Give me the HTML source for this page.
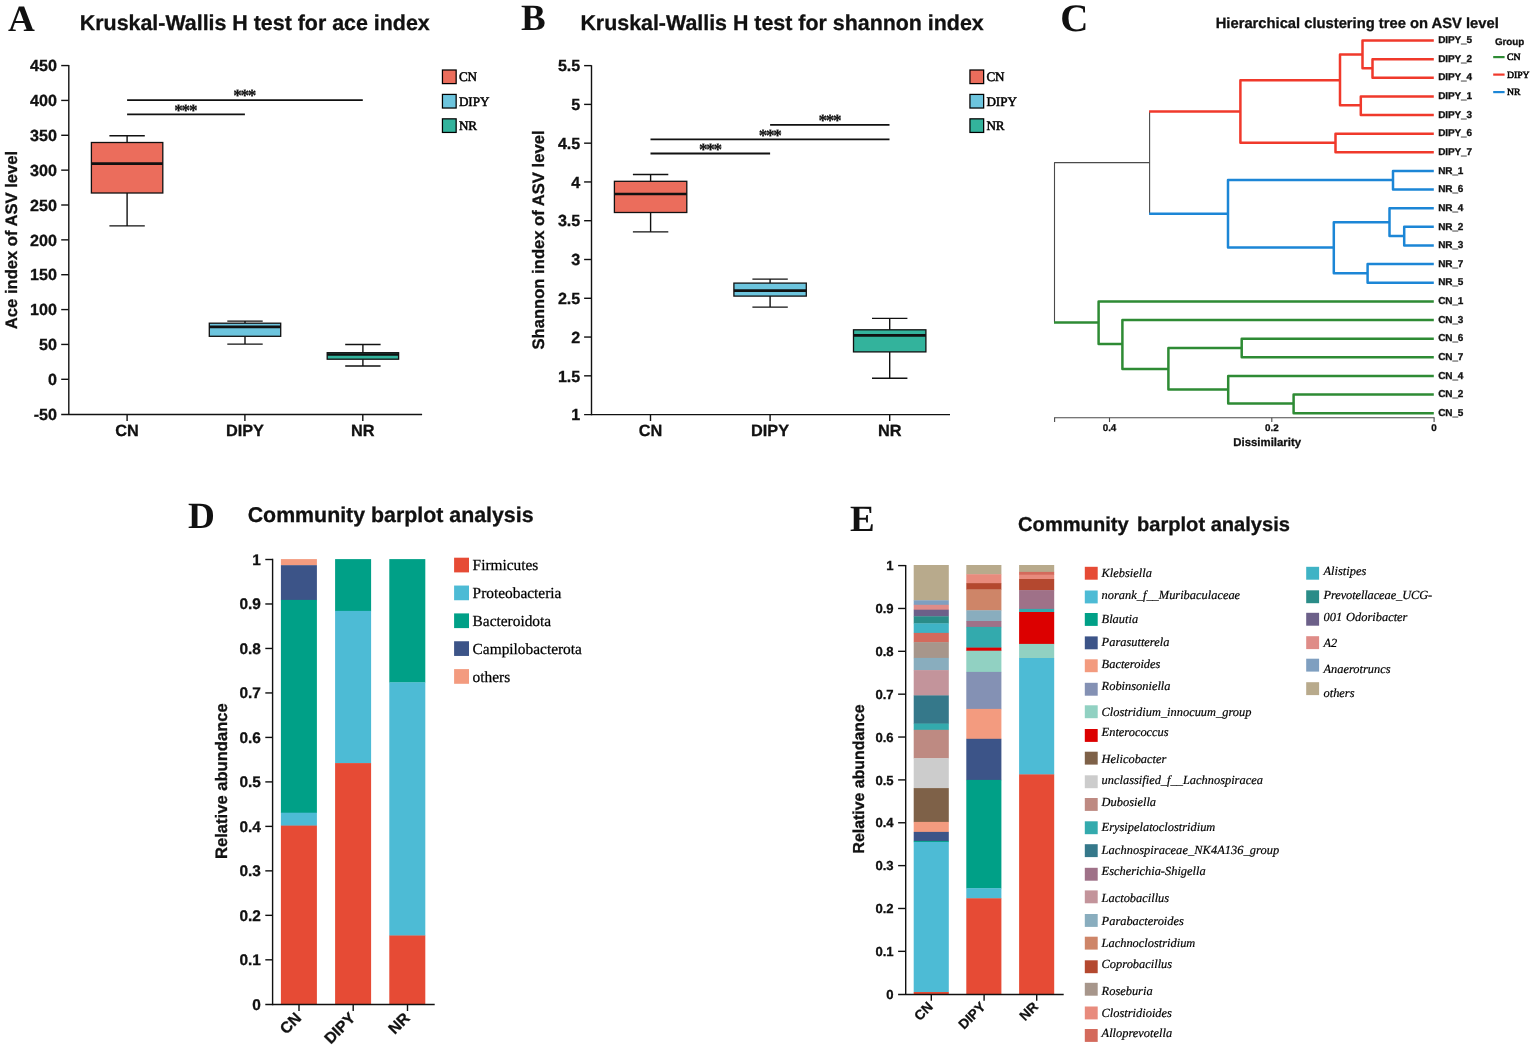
<!DOCTYPE html>
<html lang="en">
<head>
<meta charset="utf-8">
<title>Figure: alpha diversity, clustering tree and community barplots</title>
<style>
html,body{margin:0;padding:0;background:#fff;}
body{width:1535px;height:1048px;overflow:hidden;}
svg{display:block;}
text{fill:#111;text-rendering:geometricPrecision;}
.sb{font-family:"Liberation Sans", sans-serif;font-weight:700;stroke:#111;stroke-width:0.3px;}
.st{font-family:"Liberation Sans", sans-serif;font-weight:400;}
.f{font-family:"Liberation Serif", serif;font-weight:400;fill:#000;stroke:#000;stroke-width:0.25px;}
.fb{font-family:"Liberation Serif", serif;font-weight:700;}
.fi{font-family:"Liberation Serif", serif;font-style:italic;font-weight:400;fill:#000;stroke:#000;stroke-width:0.2px;}
</style>
</head>
<body>
<svg width="1535" height="1048" viewBox="0 0 1535 1048">
<rect x="0" y="0" width="1535" height="1048" fill="#ffffff"/>
<text class="fb" x="8.00" y="30.60" font-size="37.2" text-anchor="start">A</text>
<text class="sb" x="79.80" y="30.30" font-size="21.4" text-anchor="start">Kruskal-Wallis H test for ace index</text>
<line x1="68.80" y1="64.90" x2="68.80" y2="415.10" stroke="#111" stroke-width="1.4" stroke-linecap="butt"/>
<line x1="61.20" y1="414.50" x2="422.10" y2="414.50" stroke="#111" stroke-width="1.4" stroke-linecap="butt"/>
<text class="sb" x="56.90" y="419.86" font-size="16.1" text-anchor="end">-50</text>
<line x1="61.20" y1="379.30" x2="68.80" y2="379.30" stroke="#111" stroke-width="1.4" stroke-linecap="butt"/>
<text class="sb" x="56.90" y="385.00" font-size="16.1" text-anchor="end">0</text>
<line x1="61.20" y1="344.44" x2="68.80" y2="344.44" stroke="#111" stroke-width="1.4" stroke-linecap="butt"/>
<text class="sb" x="56.90" y="350.14" font-size="16.1" text-anchor="end">50</text>
<line x1="61.20" y1="309.58" x2="68.80" y2="309.58" stroke="#111" stroke-width="1.4" stroke-linecap="butt"/>
<text class="sb" x="56.90" y="315.28" font-size="16.1" text-anchor="end">100</text>
<line x1="61.20" y1="274.72" x2="68.80" y2="274.72" stroke="#111" stroke-width="1.4" stroke-linecap="butt"/>
<text class="sb" x="56.90" y="280.42" font-size="16.1" text-anchor="end">150</text>
<line x1="61.20" y1="239.86" x2="68.80" y2="239.86" stroke="#111" stroke-width="1.4" stroke-linecap="butt"/>
<text class="sb" x="56.90" y="245.56" font-size="16.1" text-anchor="end">200</text>
<line x1="61.20" y1="205.00" x2="68.80" y2="205.00" stroke="#111" stroke-width="1.4" stroke-linecap="butt"/>
<text class="sb" x="56.90" y="210.70" font-size="16.1" text-anchor="end">250</text>
<line x1="61.20" y1="170.14" x2="68.80" y2="170.14" stroke="#111" stroke-width="1.4" stroke-linecap="butt"/>
<text class="sb" x="56.90" y="175.84" font-size="16.1" text-anchor="end">300</text>
<line x1="61.20" y1="135.28" x2="68.80" y2="135.28" stroke="#111" stroke-width="1.4" stroke-linecap="butt"/>
<text class="sb" x="56.90" y="140.98" font-size="16.1" text-anchor="end">350</text>
<line x1="61.20" y1="100.42" x2="68.80" y2="100.42" stroke="#111" stroke-width="1.4" stroke-linecap="butt"/>
<text class="sb" x="56.90" y="106.12" font-size="16.1" text-anchor="end">400</text>
<line x1="61.20" y1="65.56" x2="68.80" y2="65.56" stroke="#111" stroke-width="1.4" stroke-linecap="butt"/>
<text class="sb" x="56.90" y="71.26" font-size="16.1" text-anchor="end">450</text>
<line x1="127.10" y1="414.50" x2="127.10" y2="420.90" stroke="#111" stroke-width="1.4" stroke-linecap="butt"/>
<text class="sb" x="127.10" y="436.20" font-size="16.3" text-anchor="middle">CN</text>
<line x1="244.90" y1="414.50" x2="244.90" y2="420.90" stroke="#111" stroke-width="1.4" stroke-linecap="butt"/>
<text class="sb" x="244.90" y="436.20" font-size="16.3" text-anchor="middle">DIPY</text>
<line x1="362.80" y1="414.50" x2="362.80" y2="420.90" stroke="#111" stroke-width="1.4" stroke-linecap="butt"/>
<text class="sb" x="362.80" y="436.20" font-size="16.3" text-anchor="middle">NR</text>
<text class="sb" x="17.20" y="240.00" font-size="16.6" text-anchor="middle" transform="rotate(-90 17.20 240.00)">Ace index of ASV level</text>
<line x1="127.10" y1="100.10" x2="362.80" y2="100.10" stroke="#111" stroke-width="1.8" stroke-linecap="butt"/>
<line x1="127.10" y1="114.40" x2="244.90" y2="114.40" stroke="#111" stroke-width="1.8" stroke-linecap="butt"/>
<text class="fb" x="244.15" y="101.05" font-size="17.2" text-anchor="middle" letter-spacing="-1.3" stroke="#111" stroke-width="0.25">***</text>
<text class="fb" x="185.25" y="115.65" font-size="17.2" text-anchor="middle" letter-spacing="-1.3" stroke="#111" stroke-width="0.25">***</text>
<line x1="127.10" y1="135.80" x2="127.10" y2="142.50" stroke="#111" stroke-width="1.4" stroke-linecap="butt"/>
<line x1="127.10" y1="193.00" x2="127.10" y2="225.90" stroke="#111" stroke-width="1.4" stroke-linecap="butt"/>
<line x1="109.40" y1="135.80" x2="144.80" y2="135.80" stroke="#111" stroke-width="1.4" stroke-linecap="butt"/>
<line x1="109.40" y1="225.90" x2="144.80" y2="225.90" stroke="#111" stroke-width="1.4" stroke-linecap="butt"/>
<rect x="91.40" y="142.50" width="71.40" height="50.50" fill="#EB6D5C" stroke="#111" stroke-width="1.3"/>
<line x1="91.40" y1="163.60" x2="162.80" y2="163.60" stroke="#111" stroke-width="2.7" stroke-linecap="butt"/>
<line x1="245.00" y1="321.10" x2="245.00" y2="323.20" stroke="#111" stroke-width="1.4" stroke-linecap="butt"/>
<line x1="245.00" y1="336.30" x2="245.00" y2="344.10" stroke="#111" stroke-width="1.4" stroke-linecap="butt"/>
<line x1="227.30" y1="321.10" x2="262.70" y2="321.10" stroke="#111" stroke-width="1.4" stroke-linecap="butt"/>
<line x1="227.30" y1="344.10" x2="262.70" y2="344.10" stroke="#111" stroke-width="1.4" stroke-linecap="butt"/>
<rect x="209.30" y="323.20" width="71.40" height="13.10" fill="#6DC5DE" stroke="#111" stroke-width="1.3"/>
<line x1="209.30" y1="326.90" x2="280.70" y2="326.90" stroke="#111" stroke-width="2.7" stroke-linecap="butt"/>
<line x1="362.90" y1="344.50" x2="362.90" y2="352.70" stroke="#111" stroke-width="1.4" stroke-linecap="butt"/>
<line x1="362.90" y1="359.20" x2="362.90" y2="366.00" stroke="#111" stroke-width="1.4" stroke-linecap="butt"/>
<line x1="345.20" y1="344.50" x2="380.60" y2="344.50" stroke="#111" stroke-width="1.4" stroke-linecap="butt"/>
<line x1="345.20" y1="366.00" x2="380.60" y2="366.00" stroke="#111" stroke-width="1.4" stroke-linecap="butt"/>
<rect x="327.20" y="352.70" width="71.40" height="6.50" fill="#33B39C" stroke="#111" stroke-width="1.3"/>
<line x1="327.20" y1="354.50" x2="398.60" y2="354.50" stroke="#111" stroke-width="2.6" stroke-linecap="butt"/>
<rect x="442.45" y="70.00" width="13.70" height="13.60" fill="#EB6D5C" stroke="#000" stroke-width="1.25"/>
<text class="f" x="458.90" y="81.40" font-size="13.1" text-anchor="start" style="stroke-width:0.5px">CN</text>
<rect x="442.45" y="94.42" width="13.70" height="13.60" fill="#6DC5DE" stroke="#000" stroke-width="1.25"/>
<text class="f" x="458.90" y="105.90" font-size="13.1" text-anchor="start" style="stroke-width:0.5px">DIPY</text>
<rect x="442.45" y="118.84" width="13.70" height="13.60" fill="#33B39C" stroke="#000" stroke-width="1.25"/>
<text class="f" x="458.90" y="130.20" font-size="13.1" text-anchor="start" style="stroke-width:0.5px">NR</text>
<text class="fb" x="520.90" y="30.30" font-size="37.0" text-anchor="start">B</text>
<text class="sb" x="580.40" y="30.30" font-size="21.4" text-anchor="start">Kruskal-Wallis H test for shannon index</text>
<g transform="translate(0,0.4)">
<line x1="591.50" y1="64.90" x2="591.50" y2="414.80" stroke="#111" stroke-width="1.4" stroke-linecap="butt"/>
<line x1="584.10" y1="414.20" x2="950.00" y2="414.20" stroke="#111" stroke-width="1.4" stroke-linecap="butt"/>
<text class="sb" x="580.30" y="419.90" font-size="16.1" text-anchor="end">1</text>
<line x1="584.10" y1="375.43" x2="591.50" y2="375.43" stroke="#111" stroke-width="1.4" stroke-linecap="butt"/>
<text class="sb" x="580.30" y="381.12" font-size="16.1" text-anchor="end">1.5</text>
<line x1="584.10" y1="336.65" x2="591.50" y2="336.65" stroke="#111" stroke-width="1.4" stroke-linecap="butt"/>
<text class="sb" x="580.30" y="342.35" font-size="16.1" text-anchor="end">2</text>
<line x1="584.10" y1="297.88" x2="591.50" y2="297.88" stroke="#111" stroke-width="1.4" stroke-linecap="butt"/>
<text class="sb" x="580.30" y="303.57" font-size="16.1" text-anchor="end">2.5</text>
<line x1="584.10" y1="259.10" x2="591.50" y2="259.10" stroke="#111" stroke-width="1.4" stroke-linecap="butt"/>
<text class="sb" x="580.30" y="264.80" font-size="16.1" text-anchor="end">3</text>
<line x1="584.10" y1="220.32" x2="591.50" y2="220.32" stroke="#111" stroke-width="1.4" stroke-linecap="butt"/>
<text class="sb" x="580.30" y="226.02" font-size="16.1" text-anchor="end">3.5</text>
<line x1="584.10" y1="181.55" x2="591.50" y2="181.55" stroke="#111" stroke-width="1.4" stroke-linecap="butt"/>
<text class="sb" x="580.30" y="187.25" font-size="16.1" text-anchor="end">4</text>
<line x1="584.10" y1="142.77" x2="591.50" y2="142.77" stroke="#111" stroke-width="1.4" stroke-linecap="butt"/>
<text class="sb" x="580.30" y="148.47" font-size="16.1" text-anchor="end">4.5</text>
<line x1="584.10" y1="104.00" x2="591.50" y2="104.00" stroke="#111" stroke-width="1.4" stroke-linecap="butt"/>
<text class="sb" x="580.30" y="109.70" font-size="16.1" text-anchor="end">5</text>
<line x1="584.10" y1="65.23" x2="591.50" y2="65.23" stroke="#111" stroke-width="1.4" stroke-linecap="butt"/>
<text class="sb" x="580.30" y="70.93" font-size="16.1" text-anchor="end">5.5</text>
<line x1="650.50" y1="414.20" x2="650.50" y2="420.60" stroke="#111" stroke-width="1.4" stroke-linecap="butt"/>
<text class="sb" x="650.50" y="435.80" font-size="16.3" text-anchor="middle">CN</text>
<line x1="770.10" y1="414.20" x2="770.10" y2="420.60" stroke="#111" stroke-width="1.4" stroke-linecap="butt"/>
<text class="sb" x="770.10" y="435.80" font-size="16.3" text-anchor="middle">DIPY</text>
<line x1="889.70" y1="414.20" x2="889.70" y2="420.60" stroke="#111" stroke-width="1.4" stroke-linecap="butt"/>
<text class="sb" x="889.70" y="435.80" font-size="16.3" text-anchor="middle">NR</text>
<text class="sb" x="544.30" y="239.60" font-size="16.63" text-anchor="middle" transform="rotate(-90 544.30 239.60)">Shannon index of ASV level</text>
<line x1="770.10" y1="124.40" x2="889.50" y2="124.40" stroke="#111" stroke-width="1.8" stroke-linecap="butt"/>
<line x1="650.50" y1="138.90" x2="889.50" y2="138.90" stroke="#111" stroke-width="1.8" stroke-linecap="butt"/>
<line x1="650.50" y1="153.10" x2="770.10" y2="153.10" stroke="#111" stroke-width="1.8" stroke-linecap="butt"/>
<text class="fb" x="829.35" y="125.65" font-size="17.2" text-anchor="middle" letter-spacing="-1.3" stroke="#111" stroke-width="0.25">***</text>
<text class="fb" x="769.65" y="140.15" font-size="17.2" text-anchor="middle" letter-spacing="-1.3" stroke="#111" stroke-width="0.25">***</text>
<text class="fb" x="709.85" y="154.25" font-size="17.2" text-anchor="middle" letter-spacing="-1.3" stroke="#111" stroke-width="0.25">***</text>
<line x1="650.60" y1="174.10" x2="650.60" y2="180.90" stroke="#111" stroke-width="1.4" stroke-linecap="butt"/>
<line x1="650.60" y1="212.10" x2="650.60" y2="231.50" stroke="#111" stroke-width="1.4" stroke-linecap="butt"/>
<line x1="632.90" y1="174.10" x2="668.30" y2="174.10" stroke="#111" stroke-width="1.4" stroke-linecap="butt"/>
<line x1="632.90" y1="231.50" x2="668.30" y2="231.50" stroke="#111" stroke-width="1.4" stroke-linecap="butt"/>
<rect x="614.40" y="180.90" width="72.40" height="31.20" fill="#EB6D5C" stroke="#111" stroke-width="1.3"/>
<line x1="614.40" y1="193.60" x2="686.80" y2="193.60" stroke="#111" stroke-width="2.7" stroke-linecap="butt"/>
<line x1="770.10" y1="278.70" x2="770.10" y2="282.70" stroke="#111" stroke-width="1.4" stroke-linecap="butt"/>
<line x1="770.10" y1="295.70" x2="770.10" y2="306.70" stroke="#111" stroke-width="1.4" stroke-linecap="butt"/>
<line x1="752.40" y1="278.70" x2="787.80" y2="278.70" stroke="#111" stroke-width="1.4" stroke-linecap="butt"/>
<line x1="752.40" y1="306.70" x2="787.80" y2="306.70" stroke="#111" stroke-width="1.4" stroke-linecap="butt"/>
<rect x="733.90" y="282.70" width="72.40" height="13.00" fill="#6DC5DE" stroke="#111" stroke-width="1.3"/>
<line x1="733.90" y1="290.20" x2="806.30" y2="290.20" stroke="#111" stroke-width="2.7" stroke-linecap="butt"/>
<line x1="889.70" y1="318.00" x2="889.70" y2="329.40" stroke="#111" stroke-width="1.4" stroke-linecap="butt"/>
<line x1="889.70" y1="351.50" x2="889.70" y2="377.90" stroke="#111" stroke-width="1.4" stroke-linecap="butt"/>
<line x1="872.00" y1="318.00" x2="907.40" y2="318.00" stroke="#111" stroke-width="1.4" stroke-linecap="butt"/>
<line x1="872.00" y1="377.90" x2="907.40" y2="377.90" stroke="#111" stroke-width="1.4" stroke-linecap="butt"/>
<rect x="853.50" y="329.40" width="72.40" height="22.10" fill="#33B39C" stroke="#111" stroke-width="1.3"/>
<line x1="853.50" y1="334.90" x2="925.90" y2="334.90" stroke="#111" stroke-width="2.7" stroke-linecap="butt"/>
</g>
<rect x="969.95" y="70.00" width="13.70" height="13.60" fill="#EB6D5C" stroke="#000" stroke-width="1.25"/>
<text class="f" x="986.40" y="81.40" font-size="13.1" text-anchor="start" style="stroke-width:0.5px">CN</text>
<rect x="969.95" y="94.42" width="13.70" height="13.60" fill="#6DC5DE" stroke="#000" stroke-width="1.25"/>
<text class="f" x="986.40" y="105.90" font-size="13.1" text-anchor="start" style="stroke-width:0.5px">DIPY</text>
<rect x="969.95" y="118.84" width="13.70" height="13.60" fill="#33B39C" stroke="#000" stroke-width="1.25"/>
<text class="f" x="986.40" y="130.20" font-size="13.1" text-anchor="start" style="stroke-width:0.5px">NR</text>
<text class="fb" x="1060.20" y="30.70" font-size="39.0" text-anchor="start">C</text>
<text class="sb" x="1215.70" y="28.40" font-size="14.75" text-anchor="start">Hierarchical clustering tree on ASV level</text>
<path d="M1149.60 111.50 L1149.60 213.80" fill="none" stroke="#4a4a4a" stroke-width="1.1" stroke-linejoin="round" stroke-linecap="butt"/>
<path d="M1149.60 162.60 L1054.50 162.60 L1054.50 322.60" fill="none" stroke="#4a4a4a" stroke-width="1.1" stroke-linejoin="round" stroke-linecap="butt"/>
<path d="M1149.10 111.50 L1240.40 111.50" fill="none" stroke="#F0392B" stroke-width="2.5" stroke-linejoin="round" stroke-linecap="butt"/>
<path d="M1340.00 80.20 L1240.40 80.20 L1240.40 142.80 L1335.50 142.80" fill="none" stroke="#F0392B" stroke-width="2.5" stroke-linejoin="round" stroke-linecap="butt"/>
<path d="M1362.50 54.40 L1340.00 54.40 L1340.00 105.30 L1360.80 105.30" fill="none" stroke="#F0392B" stroke-width="2.5" stroke-linejoin="round" stroke-linecap="butt"/>
<path d="M1433.80 40.50 L1362.50 40.50 L1362.50 68.30 L1372.50 68.30" fill="none" stroke="#F0392B" stroke-width="2.5" stroke-linejoin="round" stroke-linecap="butt"/>
<path d="M1433.80 59.14 L1372.50 59.14 L1372.50 77.77 L1433.80 77.77" fill="none" stroke="#F0392B" stroke-width="2.5" stroke-linejoin="round" stroke-linecap="butt"/>
<path d="M1433.80 96.41 L1360.80 96.41 L1360.80 115.04 L1433.80 115.04" fill="none" stroke="#F0392B" stroke-width="2.5" stroke-linejoin="round" stroke-linecap="butt"/>
<path d="M1433.80 133.68 L1335.50 133.68 L1335.50 152.31 L1433.80 152.31" fill="none" stroke="#F0392B" stroke-width="2.5" stroke-linejoin="round" stroke-linecap="butt"/>
<path d="M1149.10 213.80 L1228.00 213.80" fill="none" stroke="#1C86D6" stroke-width="2.5" stroke-linejoin="round" stroke-linecap="butt"/>
<path d="M1393.00 180.10 L1228.00 180.10 L1228.00 247.40 L1333.80 247.40" fill="none" stroke="#1C86D6" stroke-width="2.5" stroke-linejoin="round" stroke-linecap="butt"/>
<path d="M1433.80 170.95 L1393.00 170.95 L1393.00 189.58 L1433.80 189.58" fill="none" stroke="#1C86D6" stroke-width="2.5" stroke-linejoin="round" stroke-linecap="butt"/>
<path d="M1389.50 222.20 L1333.80 222.20 L1333.80 273.20 L1367.60 273.20" fill="none" stroke="#1C86D6" stroke-width="2.5" stroke-linejoin="round" stroke-linecap="butt"/>
<path d="M1433.80 208.22 L1389.50 208.22 L1389.50 235.90 L1404.20 235.90" fill="none" stroke="#1C86D6" stroke-width="2.5" stroke-linejoin="round" stroke-linecap="butt"/>
<path d="M1433.80 226.85 L1404.20 226.85 L1404.20 245.49 L1433.80 245.49" fill="none" stroke="#1C86D6" stroke-width="2.5" stroke-linejoin="round" stroke-linecap="butt"/>
<path d="M1433.80 264.12 L1367.60 264.12 L1367.60 282.75 L1433.80 282.75" fill="none" stroke="#1C86D6" stroke-width="2.5" stroke-linejoin="round" stroke-linecap="butt"/>
<path d="M1054.00 322.60 L1098.60 322.60" fill="none" stroke="#2E8B34" stroke-width="2.5" stroke-linejoin="round" stroke-linecap="butt"/>
<path d="M1433.80 301.39 L1098.60 301.39 L1098.60 344.10 L1122.40 344.10" fill="none" stroke="#2E8B34" stroke-width="2.5" stroke-linejoin="round" stroke-linecap="butt"/>
<path d="M1433.80 320.03 L1122.40 320.03 L1122.40 369.00 L1168.40 369.00" fill="none" stroke="#2E8B34" stroke-width="2.5" stroke-linejoin="round" stroke-linecap="butt"/>
<path d="M1241.70 348.00 L1168.40 348.00 L1168.40 389.50 L1228.20 389.50" fill="none" stroke="#2E8B34" stroke-width="2.5" stroke-linejoin="round" stroke-linecap="butt"/>
<path d="M1433.80 338.66 L1241.70 338.66 L1241.70 357.30 L1433.80 357.30" fill="none" stroke="#2E8B34" stroke-width="2.5" stroke-linejoin="round" stroke-linecap="butt"/>
<path d="M1433.80 375.93 L1228.20 375.93 L1228.20 403.60 L1293.60 403.60" fill="none" stroke="#2E8B34" stroke-width="2.5" stroke-linejoin="round" stroke-linecap="butt"/>
<path d="M1433.80 394.57 L1293.60 394.57 L1293.60 413.20 L1433.80 413.20" fill="none" stroke="#2E8B34" stroke-width="2.5" stroke-linejoin="round" stroke-linecap="butt"/>
<text class="sb" x="1438.30" y="43.15" font-size="10.0" text-anchor="start" letter-spacing="-0.15">DIPY_5</text>
<text class="sb" x="1438.30" y="61.79" font-size="10.0" text-anchor="start" letter-spacing="-0.15">DIPY_2</text>
<text class="sb" x="1438.30" y="80.42" font-size="10.0" text-anchor="start" letter-spacing="-0.15">DIPY_4</text>
<text class="sb" x="1438.30" y="99.06" font-size="10.0" text-anchor="start" letter-spacing="-0.15">DIPY_1</text>
<text class="sb" x="1438.30" y="117.69" font-size="10.0" text-anchor="start" letter-spacing="-0.15">DIPY_3</text>
<text class="sb" x="1438.30" y="136.33" font-size="10.0" text-anchor="start" letter-spacing="-0.15">DIPY_6</text>
<text class="sb" x="1438.30" y="154.96" font-size="10.0" text-anchor="start" letter-spacing="-0.15">DIPY_7</text>
<text class="sb" x="1438.30" y="173.60" font-size="10.0" text-anchor="start" letter-spacing="-0.15">NR_1</text>
<text class="sb" x="1438.30" y="192.23" font-size="10.0" text-anchor="start" letter-spacing="-0.15">NR_6</text>
<text class="sb" x="1438.30" y="210.87" font-size="10.0" text-anchor="start" letter-spacing="-0.15">NR_4</text>
<text class="sb" x="1438.30" y="229.50" font-size="10.0" text-anchor="start" letter-spacing="-0.15">NR_2</text>
<text class="sb" x="1438.30" y="248.14" font-size="10.0" text-anchor="start" letter-spacing="-0.15">NR_3</text>
<text class="sb" x="1438.30" y="266.77" font-size="10.0" text-anchor="start" letter-spacing="-0.15">NR_7</text>
<text class="sb" x="1438.30" y="285.40" font-size="10.0" text-anchor="start" letter-spacing="-0.15">NR_5</text>
<text class="sb" x="1438.30" y="304.04" font-size="10.0" text-anchor="start" letter-spacing="-0.15">CN_1</text>
<text class="sb" x="1438.30" y="322.68" font-size="10.0" text-anchor="start" letter-spacing="-0.15">CN_3</text>
<text class="sb" x="1438.30" y="341.31" font-size="10.0" text-anchor="start" letter-spacing="-0.15">CN_6</text>
<text class="sb" x="1438.30" y="359.94" font-size="10.0" text-anchor="start" letter-spacing="-0.15">CN_7</text>
<text class="sb" x="1438.30" y="378.58" font-size="10.0" text-anchor="start" letter-spacing="-0.15">CN_4</text>
<text class="sb" x="1438.30" y="397.22" font-size="10.0" text-anchor="start" letter-spacing="-0.15">CN_2</text>
<text class="sb" x="1438.30" y="415.85" font-size="10.0" text-anchor="start" letter-spacing="-0.15">CN_5</text>
<line x1="1054.10" y1="417.70" x2="1434.60" y2="417.70" stroke="#4a4a4a" stroke-width="1.1" stroke-linecap="butt"/>
<line x1="1054.60" y1="417.70" x2="1054.60" y2="422.00" stroke="#4a4a4a" stroke-width="1.1" stroke-linecap="butt"/>
<line x1="1109.50" y1="417.70" x2="1109.50" y2="422.00" stroke="#4a4a4a" stroke-width="1.1" stroke-linecap="butt"/>
<text class="sb" x="1109.50" y="431.20" font-size="9.8" text-anchor="middle">0.4</text>
<line x1="1271.80" y1="417.70" x2="1271.80" y2="422.00" stroke="#4a4a4a" stroke-width="1.1" stroke-linecap="butt"/>
<text class="sb" x="1271.80" y="431.20" font-size="9.8" text-anchor="middle">0.2</text>
<line x1="1434.10" y1="417.70" x2="1434.10" y2="422.00" stroke="#4a4a4a" stroke-width="1.1" stroke-linecap="butt"/>
<text class="sb" x="1434.10" y="431.20" font-size="9.8" text-anchor="middle">0</text>
<text class="sb" x="1267.20" y="446.00" font-size="11.4" text-anchor="middle">Dissimilarity</text>
<text class="sb" x="1494.90" y="44.70" font-size="9.8" text-anchor="start">Group</text>
<line x1="1493.20" y1="57.10" x2="1504.60" y2="57.10" stroke="#2E8B34" stroke-width="2.2" stroke-linecap="butt"/>
<text class="f" x="1507.00" y="60.10" font-size="9.7" text-anchor="start" style="stroke-width:0.55px">CN</text>
<line x1="1493.20" y1="74.60" x2="1504.60" y2="74.60" stroke="#F0392B" stroke-width="2.2" stroke-linecap="butt"/>
<text class="f" x="1507.00" y="77.60" font-size="9.7" text-anchor="start" style="stroke-width:0.55px">DIPY</text>
<line x1="1493.20" y1="92.10" x2="1504.60" y2="92.10" stroke="#1C86D6" stroke-width="2.2" stroke-linecap="butt"/>
<text class="f" x="1507.00" y="95.10" font-size="9.7" text-anchor="start" style="stroke-width:0.55px">NR</text>
<text class="fb" x="187.90" y="527.80" font-size="37.2" text-anchor="start">D</text>
<text class="sb" x="247.70" y="521.90" font-size="21.35" text-anchor="start">Community barplot analysis</text>
<rect x="280.90" y="559.10" width="36.00" height="6.40" fill="#F39B7F"/>
<rect x="280.90" y="565.20" width="36.00" height="35.00" fill="#3C5488"/>
<rect x="280.90" y="599.90" width="36.00" height="213.10" fill="#00A087"/>
<rect x="280.90" y="812.70" width="36.00" height="13.20" fill="#4DBBD5"/>
<rect x="280.90" y="825.60" width="36.00" height="179.00" fill="#E64B35"/>
<rect x="335.10" y="559.10" width="36.00" height="52.10" fill="#00A087"/>
<rect x="335.10" y="610.90" width="36.00" height="152.50" fill="#4DBBD5"/>
<rect x="335.10" y="763.10" width="36.00" height="241.50" fill="#E64B35"/>
<rect x="389.30" y="559.10" width="36.00" height="123.50" fill="#00A087"/>
<rect x="389.30" y="682.30" width="36.00" height="253.50" fill="#4DBBD5"/>
<rect x="389.30" y="935.50" width="36.00" height="69.10" fill="#E64B35"/>
<line x1="272.60" y1="558.80" x2="272.60" y2="1005.20" stroke="#111" stroke-width="1.4" stroke-linecap="butt"/>
<line x1="265.30" y1="1004.50" x2="434.70" y2="1004.50" stroke="#111" stroke-width="1.4" stroke-linecap="butt"/>
<text class="sb" x="260.90" y="1009.60" font-size="15.4" text-anchor="end">0</text>
<line x1="265.30" y1="959.82" x2="272.60" y2="959.82" stroke="#111" stroke-width="1.4" stroke-linecap="butt"/>
<text class="sb" x="260.90" y="965.12" font-size="15.4" text-anchor="end">0.1</text>
<line x1="265.30" y1="915.34" x2="272.60" y2="915.34" stroke="#111" stroke-width="1.4" stroke-linecap="butt"/>
<text class="sb" x="260.90" y="920.64" font-size="15.4" text-anchor="end">0.2</text>
<line x1="265.30" y1="870.86" x2="272.60" y2="870.86" stroke="#111" stroke-width="1.4" stroke-linecap="butt"/>
<text class="sb" x="260.90" y="876.16" font-size="15.4" text-anchor="end">0.3</text>
<line x1="265.30" y1="826.38" x2="272.60" y2="826.38" stroke="#111" stroke-width="1.4" stroke-linecap="butt"/>
<text class="sb" x="260.90" y="831.68" font-size="15.4" text-anchor="end">0.4</text>
<line x1="265.30" y1="781.90" x2="272.60" y2="781.90" stroke="#111" stroke-width="1.4" stroke-linecap="butt"/>
<text class="sb" x="260.90" y="787.20" font-size="15.4" text-anchor="end">0.5</text>
<line x1="265.30" y1="737.42" x2="272.60" y2="737.42" stroke="#111" stroke-width="1.4" stroke-linecap="butt"/>
<text class="sb" x="260.90" y="742.72" font-size="15.4" text-anchor="end">0.6</text>
<line x1="265.30" y1="692.94" x2="272.60" y2="692.94" stroke="#111" stroke-width="1.4" stroke-linecap="butt"/>
<text class="sb" x="260.90" y="698.24" font-size="15.4" text-anchor="end">0.7</text>
<line x1="265.30" y1="648.46" x2="272.60" y2="648.46" stroke="#111" stroke-width="1.4" stroke-linecap="butt"/>
<text class="sb" x="260.90" y="653.76" font-size="15.4" text-anchor="end">0.8</text>
<line x1="265.30" y1="603.98" x2="272.60" y2="603.98" stroke="#111" stroke-width="1.4" stroke-linecap="butt"/>
<text class="sb" x="260.90" y="609.28" font-size="15.4" text-anchor="end">0.9</text>
<line x1="265.30" y1="559.50" x2="272.60" y2="559.50" stroke="#111" stroke-width="1.4" stroke-linecap="butt"/>
<text class="sb" x="260.90" y="564.80" font-size="15.4" text-anchor="end">1</text>
<line x1="299.00" y1="1004.50" x2="299.00" y2="1011.00" stroke="#111" stroke-width="1.4" stroke-linecap="butt"/>
<text class="sb" x="302.20" y="1019.00" font-size="15.6" text-anchor="end" transform="rotate(-45 302.20 1019.00)">CN</text>
<line x1="353.20" y1="1004.50" x2="353.20" y2="1011.00" stroke="#111" stroke-width="1.4" stroke-linecap="butt"/>
<text class="sb" x="356.40" y="1019.00" font-size="15.6" text-anchor="end" transform="rotate(-45 356.40 1019.00)">DIPY</text>
<line x1="407.50" y1="1004.50" x2="407.50" y2="1011.00" stroke="#111" stroke-width="1.4" stroke-linecap="butt"/>
<text class="sb" x="410.70" y="1019.00" font-size="15.6" text-anchor="end" transform="rotate(-45 410.70 1019.00)">NR</text>
<text class="sb" x="227.50" y="781.10" font-size="16.6" text-anchor="middle" transform="rotate(-90 227.50 781.10)">Relative abundance</text>
<rect x="454.10" y="557.70" width="14.90" height="14.70" fill="#E64B35"/>
<text class="f" x="472.60" y="570.30" font-size="15.39" text-anchor="start">Firmicutes</text>
<rect x="454.10" y="585.55" width="14.90" height="14.70" fill="#4DBBD5"/>
<text class="f" x="472.60" y="598.15" font-size="15.39" text-anchor="start">Proteobacteria</text>
<rect x="454.10" y="613.40" width="14.90" height="14.70" fill="#00A087"/>
<text class="f" x="472.60" y="626.00" font-size="15.39" text-anchor="start">Bacteroidota</text>
<rect x="454.10" y="641.25" width="14.90" height="14.70" fill="#3C5488"/>
<text class="f" x="472.60" y="653.85" font-size="15.39" text-anchor="start">Campilobacterota</text>
<rect x="454.10" y="669.10" width="14.90" height="14.70" fill="#F39B7F"/>
<text class="f" x="472.60" y="681.70" font-size="15.39" text-anchor="start">others</text>
<text class="fb" x="850.00" y="530.80" font-size="37.0" text-anchor="start">E</text>
<text class="sb" x="1018.10" y="530.50" font-size="20.1" text-anchor="start">Community<tspan dx="2.8"> barplot analysis</tspan></text>
<rect x="913.70" y="565.00" width="35.10" height="35.60" fill="#B8AA8C"/>
<rect x="913.70" y="600.30" width="35.10" height="4.80" fill="#7F9FC0"/>
<rect x="913.70" y="604.80" width="35.10" height="5.20" fill="#DF8C88"/>
<rect x="913.70" y="609.70" width="35.10" height="6.90" fill="#6C6089"/>
<rect x="913.70" y="616.30" width="35.10" height="7.40" fill="#2A8C88"/>
<rect x="913.70" y="623.40" width="35.10" height="9.80" fill="#3FB3C5"/>
<rect x="913.70" y="632.90" width="35.10" height="9.50" fill="#D46A5C"/>
<rect x="913.70" y="642.10" width="35.10" height="16.10" fill="#A7968B"/>
<rect x="913.70" y="657.90" width="35.10" height="12.50" fill="#89ADBE"/>
<rect x="913.70" y="670.10" width="35.10" height="25.60" fill="#C3949B"/>
<rect x="913.70" y="695.40" width="35.10" height="28.50" fill="#35788A"/>
<rect x="913.70" y="723.60" width="35.10" height="6.50" fill="#33AAAD"/>
<rect x="913.70" y="729.80" width="35.10" height="28.70" fill="#BE8A82"/>
<rect x="913.70" y="758.20" width="35.10" height="30.20" fill="#CCCCCC"/>
<rect x="913.70" y="788.10" width="35.10" height="34.10" fill="#7E6148"/>
<rect x="913.70" y="821.90" width="35.10" height="10.30" fill="#F39B7F"/>
<rect x="913.70" y="831.90" width="35.10" height="9.30" fill="#3C5488"/>
<rect x="913.70" y="840.90" width="35.10" height="1.30" fill="#00A087"/>
<rect x="913.70" y="841.90" width="35.10" height="150.40" fill="#4DBBD5"/>
<rect x="913.70" y="992.00" width="35.10" height="2.60" fill="#E64B35"/>
<rect x="966.30" y="565.00" width="35.10" height="9.50" fill="#B8AA8C"/>
<rect x="966.30" y="574.20" width="35.10" height="9.20" fill="#E88B7D"/>
<rect x="966.30" y="583.10" width="35.10" height="6.70" fill="#B4482F"/>
<rect x="966.30" y="589.50" width="35.10" height="21.10" fill="#CE8568"/>
<rect x="966.30" y="610.30" width="35.10" height="11.00" fill="#89ADBE"/>
<rect x="966.30" y="621.00" width="35.10" height="6.20" fill="#9F7188"/>
<rect x="966.30" y="626.90" width="35.10" height="21.00" fill="#33AAAD"/>
<rect x="966.30" y="647.60" width="35.10" height="3.40" fill="#DC0000"/>
<rect x="966.30" y="650.70" width="35.10" height="21.50" fill="#91D1C2"/>
<rect x="966.30" y="671.90" width="35.10" height="37.30" fill="#8491B4"/>
<rect x="966.30" y="708.90" width="35.10" height="30.20" fill="#F39B7F"/>
<rect x="966.30" y="738.80" width="35.10" height="41.40" fill="#3C5488"/>
<rect x="966.30" y="779.90" width="35.10" height="108.60" fill="#00A087"/>
<rect x="966.30" y="888.20" width="35.10" height="10.40" fill="#4DBBD5"/>
<rect x="966.30" y="898.30" width="35.10" height="96.30" fill="#E64B35"/>
<rect x="1019.10" y="565.00" width="35.10" height="7.20" fill="#B8AA8C"/>
<rect x="1019.10" y="571.90" width="35.10" height="3.10" fill="#D46A5C"/>
<rect x="1019.10" y="574.70" width="35.10" height="4.60" fill="#E88B7D"/>
<rect x="1019.10" y="579.00" width="35.10" height="11.40" fill="#B4482F"/>
<rect x="1019.10" y="590.10" width="35.10" height="19.10" fill="#9F7188"/>
<rect x="1019.10" y="608.90" width="35.10" height="3.40" fill="#33AAAD"/>
<rect x="1019.10" y="612.00" width="35.10" height="32.20" fill="#DC0000"/>
<rect x="1019.10" y="643.90" width="35.10" height="14.40" fill="#91D1C2"/>
<rect x="1019.10" y="658.00" width="35.10" height="116.70" fill="#4DBBD5"/>
<rect x="1019.10" y="774.40" width="35.10" height="220.20" fill="#E64B35"/>
<line x1="905.70" y1="564.90" x2="905.70" y2="995.10" stroke="#111" stroke-width="1.4" stroke-linecap="butt"/>
<line x1="898.10" y1="994.50" x2="1063.70" y2="994.50" stroke="#111" stroke-width="1.4" stroke-linecap="butt"/>
<text class="sb" x="893.60" y="998.90" font-size="13.1" text-anchor="end">0</text>
<line x1="898.10" y1="951.34" x2="905.70" y2="951.34" stroke="#111" stroke-width="1.4" stroke-linecap="butt"/>
<text class="sb" x="893.60" y="956.04" font-size="13.1" text-anchor="end">0.1</text>
<line x1="898.10" y1="908.48" x2="905.70" y2="908.48" stroke="#111" stroke-width="1.4" stroke-linecap="butt"/>
<text class="sb" x="893.60" y="913.18" font-size="13.1" text-anchor="end">0.2</text>
<line x1="898.10" y1="865.62" x2="905.70" y2="865.62" stroke="#111" stroke-width="1.4" stroke-linecap="butt"/>
<text class="sb" x="893.60" y="870.32" font-size="13.1" text-anchor="end">0.3</text>
<line x1="898.10" y1="822.76" x2="905.70" y2="822.76" stroke="#111" stroke-width="1.4" stroke-linecap="butt"/>
<text class="sb" x="893.60" y="827.46" font-size="13.1" text-anchor="end">0.4</text>
<line x1="898.10" y1="779.90" x2="905.70" y2="779.90" stroke="#111" stroke-width="1.4" stroke-linecap="butt"/>
<text class="sb" x="893.60" y="784.60" font-size="13.1" text-anchor="end">0.5</text>
<line x1="898.10" y1="737.04" x2="905.70" y2="737.04" stroke="#111" stroke-width="1.4" stroke-linecap="butt"/>
<text class="sb" x="893.60" y="741.74" font-size="13.1" text-anchor="end">0.6</text>
<line x1="898.10" y1="694.18" x2="905.70" y2="694.18" stroke="#111" stroke-width="1.4" stroke-linecap="butt"/>
<text class="sb" x="893.60" y="698.88" font-size="13.1" text-anchor="end">0.7</text>
<line x1="898.10" y1="651.32" x2="905.70" y2="651.32" stroke="#111" stroke-width="1.4" stroke-linecap="butt"/>
<text class="sb" x="893.60" y="656.02" font-size="13.1" text-anchor="end">0.8</text>
<line x1="898.10" y1="608.46" x2="905.70" y2="608.46" stroke="#111" stroke-width="1.4" stroke-linecap="butt"/>
<text class="sb" x="893.60" y="613.16" font-size="13.1" text-anchor="end">0.9</text>
<line x1="898.10" y1="565.60" x2="905.70" y2="565.60" stroke="#111" stroke-width="1.4" stroke-linecap="butt"/>
<text class="sb" x="893.60" y="570.30" font-size="13.1" text-anchor="end">1</text>
<line x1="931.30" y1="994.50" x2="931.30" y2="1000.80" stroke="#111" stroke-width="1.4" stroke-linecap="butt"/>
<text class="sb" x="933.60" y="1007.60" font-size="13.6" text-anchor="end" transform="rotate(-45 933.60 1007.60)">CN</text>
<line x1="984.10" y1="994.50" x2="984.10" y2="1000.80" stroke="#111" stroke-width="1.4" stroke-linecap="butt"/>
<text class="sb" x="986.40" y="1007.60" font-size="13.6" text-anchor="end" transform="rotate(-45 986.40 1007.60)">DIPY</text>
<line x1="1036.70" y1="994.50" x2="1036.70" y2="1000.80" stroke="#111" stroke-width="1.4" stroke-linecap="butt"/>
<text class="sb" x="1039.00" y="1007.60" font-size="13.6" text-anchor="end" transform="rotate(-45 1039.00 1007.60)">NR</text>
<text class="sb" x="863.90" y="778.90" font-size="15.9" text-anchor="middle" transform="rotate(-90 863.90 778.90)">Relative abundance</text>
<rect x="1084.80" y="566.80" width="12.90" height="12.90" fill="#E64B35"/>
<text class="fi" x="1101.60" y="576.90" font-size="12.42" text-anchor="start">Klebsiella</text>
<rect x="1084.80" y="590.50" width="12.90" height="12.90" fill="#4DBBD5"/>
<text class="fi" x="1101.60" y="598.65" font-size="12.42" text-anchor="start">norank_f__Muribaculaceae</text>
<rect x="1084.80" y="613.00" width="12.90" height="12.90" fill="#00A087"/>
<text class="fi" x="1101.60" y="623.10" font-size="12.42" text-anchor="start">Blautia</text>
<rect x="1084.80" y="636.40" width="12.90" height="12.90" fill="#3C5488"/>
<text class="fi" x="1101.60" y="645.60" font-size="12.42" text-anchor="start">Parasutterela</text>
<rect x="1084.80" y="659.30" width="12.90" height="12.90" fill="#F39B7F"/>
<text class="fi" x="1101.60" y="667.70" font-size="12.42" text-anchor="start">Bacteroides</text>
<rect x="1084.80" y="682.80" width="12.90" height="12.90" fill="#8491B4"/>
<text class="fi" x="1101.60" y="689.70" font-size="12.42" text-anchor="start">Robinsoniella</text>
<rect x="1084.80" y="705.30" width="12.90" height="12.90" fill="#91D1C2"/>
<text class="fi" x="1101.60" y="715.60" font-size="12.42" text-anchor="start">Clostridium_innocuum_group</text>
<rect x="1084.80" y="729.00" width="12.90" height="12.90" fill="#DC0000"/>
<text class="fi" x="1101.60" y="735.70" font-size="12.42" text-anchor="start">Enterococcus</text>
<rect x="1084.80" y="751.70" width="12.90" height="12.90" fill="#7E6148"/>
<text class="fi" x="1101.60" y="762.60" font-size="12.42" text-anchor="start">Helicobacter</text>
<rect x="1084.80" y="775.30" width="12.90" height="12.90" fill="#CCCCCC"/>
<text class="fi" x="1101.60" y="784.20" font-size="12.42" text-anchor="start">unclassified_f__Lachnospiracea</text>
<rect x="1084.80" y="798.00" width="12.90" height="12.90" fill="#BE8A82"/>
<text class="fi" x="1101.60" y="806.40" font-size="12.42" text-anchor="start">Dubosiella</text>
<rect x="1084.80" y="821.30" width="12.90" height="12.90" fill="#33AAAD"/>
<text class="fi" x="1101.60" y="830.50" font-size="12.42" text-anchor="start">Erysipelatoclostridium</text>
<rect x="1084.80" y="844.20" width="12.90" height="12.90" fill="#35788A"/>
<text class="fi" x="1101.60" y="854.20" font-size="12.42" text-anchor="start" letter-spacing="0.06">Lachnospiraceae_NK4A136_group</text>
<rect x="1084.80" y="867.80" width="12.90" height="12.90" fill="#9F7188"/>
<text class="fi" x="1101.60" y="874.60" font-size="12.42" text-anchor="start">Escherichia-Shigella</text>
<rect x="1084.80" y="890.40" width="12.90" height="12.90" fill="#C3949B"/>
<text class="fi" x="1101.60" y="901.90" font-size="12.42" text-anchor="start">Lactobacillus</text>
<rect x="1084.80" y="914.00" width="12.90" height="12.90" fill="#89ADBE"/>
<text class="fi" x="1101.60" y="925.10" font-size="12.42" text-anchor="start">Parabacteroides</text>
<rect x="1084.80" y="936.70" width="12.90" height="12.90" fill="#CE8568"/>
<text class="fi" x="1101.60" y="946.60" font-size="12.42" text-anchor="start">Lachnoclostridium</text>
<rect x="1084.80" y="960.30" width="12.90" height="12.90" fill="#B4482F"/>
<text class="fi" x="1101.60" y="967.70" font-size="12.42" text-anchor="start">Coprobacillus</text>
<rect x="1084.80" y="982.80" width="12.90" height="12.90" fill="#A7968B"/>
<text class="fi" x="1101.60" y="994.70" font-size="12.42" text-anchor="start">Roseburia</text>
<rect x="1084.80" y="1006.50" width="12.90" height="12.90" fill="#E88B7D"/>
<text class="fi" x="1101.60" y="1017.20" font-size="12.42" text-anchor="start">Clostridioides</text>
<rect x="1084.80" y="1029.00" width="12.90" height="12.90" fill="#D46A5C"/>
<text class="fi" x="1101.60" y="1036.70" font-size="12.42" text-anchor="start">Alloprevotella</text>
<rect x="1306.20" y="566.80" width="12.90" height="12.90" fill="#3FB3C5"/>
<text class="fi" x="1323.50" y="575.20" font-size="12.42" text-anchor="start">Alistipes</text>
<rect x="1306.20" y="590.30" width="12.90" height="12.90" fill="#2A8C88"/>
<text class="fi" x="1323.50" y="599.10" font-size="12.42" text-anchor="start" letter-spacing="-0.1">Prevotellaceae_UCG-</text>
<rect x="1306.20" y="612.80" width="12.90" height="12.90" fill="#6C6089"/>
<text class="fi" x="1323.50" y="621.10" font-size="12.42" text-anchor="start" word-spacing="0.9">001 Odoribacter</text>
<rect x="1306.20" y="636.20" width="12.90" height="12.90" fill="#DF8C88"/>
<text class="fi" x="1323.50" y="647.40" font-size="12.42" text-anchor="start">A2</text>
<rect x="1306.20" y="658.70" width="12.90" height="12.90" fill="#7F9FC0"/>
<text class="fi" x="1323.50" y="672.60" font-size="12.42" text-anchor="start">Anaerotruncs</text>
<rect x="1306.20" y="682.20" width="12.90" height="12.90" fill="#B8AA8C"/>
<text class="fi" x="1323.50" y="697.40" font-size="12.42" text-anchor="start">others</text>
</svg>
</body>
</html>
